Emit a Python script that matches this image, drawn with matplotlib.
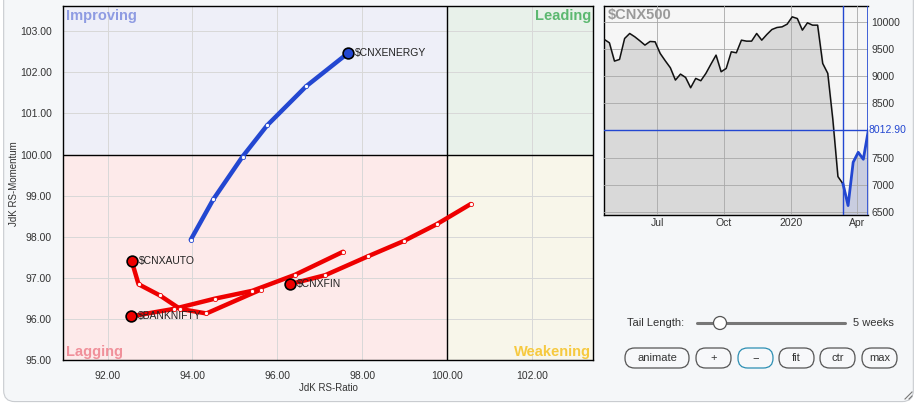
import matplotlib.pyplot as plt
import matplotlib.patches as mpatches
import pandas as pd

plt.rcParams['font.family'] = ['Liberation Sans', 'DejaVu Sans']

# RRG tails (oldest -> head)
names = ['$CNXENERGY', '$CNXAUTO', '$BANKNIFTY', '$CNXFIN']
colors = ['#2347d1', '#ee0000', '#ee0000', '#ee0000']
rs_ratio = [
    [93.96, 94.49, 95.18, 95.76, 96.68, 97.67],
    [95.61, 94.33, 93.71, 93.23, 92.73, 92.57],
    [97.55, 96.42, 95.41, 94.53, 93.56, 92.55],
    [100.56, 99.76, 98.98, 98.14, 97.13, 96.29],
]
rs_mom = [
    [97.93, 98.91, 99.95, 100.71, 101.66, 102.47],
    [96.72, 96.14, 96.25, 96.58, 96.85, 97.41],
    [97.64, 97.08, 96.69, 96.50, 96.25, 96.07],
    [98.80, 98.31, 97.90, 97.53, 97.07, 96.85],
]

# $CNX500 weekly closes
cnx500 = [9676, 9615, 9278, 9309, 9694, 9786, 9725, 9651, 9572, 9639,
          9633, 9419, 9284, 9156, 8929, 9039, 8978, 8788, 8960, 8917,
          9052, 9223, 9388, 9082, 9143, 9449, 9431, 9663, 9645, 9645,
          9786, 9663, 9767, 9859, 9896, 9908, 9957, 10092, 10061, 9847,
          9982, 9939, 9939, 9235, 9052, 8200, 7155, 7020, 6622, 7418,
          7601, 7473, 8012.90]
dates = pd.date_range(end='2020-04-17', periods=len(cnx500), freq='7D')
tail_weeks = 5

W, H = 917, 404
fig = plt.figure(figsize=(9.17, 4.04), dpi=100)
fig.patch.set_facecolor('white')
panel = mpatches.FancyBboxPatch((0.004, 0.006), 0.992, 1.2, transform=fig.transFigure,
                                boxstyle='round,pad=0,rounding_size=0.012', mutation_aspect=W / H,
                                facecolor='#f5f7f9', edgecolor='#c9ccd0', lw=0.8, zorder=-10)
fig.add_artist(panel)

# ---- RRG ----
ax = fig.add_axes([0.0687, 0.108, 0.5780, 0.877])
xmin, xmax, ymin, ymax = 90.95, 103.44, 95.0, 103.61
ax.set_xlim(xmin, xmax)
ax.set_ylim(ymin, ymax)
ax.add_patch(mpatches.Rectangle((xmin, 100), 100 - xmin, ymax - 100, color='#eeeff8', zorder=0))
ax.add_patch(mpatches.Rectangle((100, 100), xmax - 100, ymax - 100, color='#e8f1ea', zorder=0))
ax.add_patch(mpatches.Rectangle((xmin, ymin), 100 - xmin, 100 - ymin, color='#fdeaea', zorder=0))
ax.add_patch(mpatches.Rectangle((100, ymin), xmax - 100, 100 - ymin, color='#f8f6ea', zorder=0))
ax.set_xticks([92, 94, 96, 98, 100, 102])
ax.set_yticks([95, 96, 97, 98, 99, 100, 101, 102, 103])
ax.xaxis.set_major_formatter('{x:.2f}')
ax.yaxis.set_major_formatter('{x:.2f}')
ax.tick_params(labelsize=7.5, colors='#333333', length=0, pad=8)
ax.grid(color='#d8d8d8', lw=0.7, zorder=1)
ax.axvline(100, color='black', lw=1, zorder=2)
ax.axhline(100, color='black', lw=1, zorder=2)
for s in ax.spines.values():
    s.set_color('black')
    s.set_linewidth(1)
ax.set_xlabel('JdK RS-Ratio', fontsize=7, color='#333333', labelpad=1)
ax.set_ylabel('JdK RS-Momentum', fontsize=7, color='#333333', labelpad=1)

qkw = dict(fontsize=10.5, fontweight='bold', transform=ax.transAxes)
ax.text(0.005, 0.992, 'Improving', color='#8e9be2', ha='left', va='top', **qkw)
ax.text(0.997, 0.992, 'Leading', color='#5cb870', ha='right', va='top', **qkw)
ax.text(0.005, 0.003, 'Lagging', color='#f0909a', ha='left', va='bottom', **qkw)
ax.text(0.997, 0.003, 'Weakening', color='#f6c93f', ha='right', va='bottom', **qkw)

for name, c, xs, ys in zip(names, colors, rs_ratio, rs_mom):
    ax.plot(xs, ys, color=c, lw=3.2, solid_capstyle='round', solid_joinstyle='round', zorder=4)
    ax.scatter(xs[:-1], ys[:-1], s=9, facecolor='white', edgecolor=c, lw=0.6, zorder=5)
    ax.scatter(xs[-1:], ys[-1:], s=60, facecolor=c, edgecolor='black', lw=1.2, zorder=6)
    ax.annotate(name.replace('$', r'\$'), (xs[-1], ys[-1]), xytext=(5, 0), textcoords='offset points',
                fontsize=7.5, color='#222222', va='center', ha='left', zorder=7)

# ---- $CNX500 ----
bx = fig.add_axes([0.659, 0.468, 0.288, 0.517])
bx.set_facecolor('#f6f6f6')
bx.fill_between(dates, cnx500, 6400, color='#d9d9d9', zorder=1)
bx.plot(dates[:-tail_weeks], cnx500[:-tail_weeks], color='#111111', lw=1.1, zorder=3)
bx.fill_between(dates[-tail_weeks - 1:], cnx500[-tail_weeks - 1:], 6400, color='#c9cde0', zorder=2)
bx.plot(dates[-tail_weeks - 1:], cnx500[-tail_weeks - 1:], color='#2347d1', lw=2, zorder=4)
bx.axvline(dates[-tail_weeks - 1], color='#2347d1', lw=1, zorder=5)
bx.axvline(dates[-1], color='#2347d1', lw=1.2, zorder=5)
bx.axhline(cnx500[-1], color='#2347d1', lw=1, zorder=5)
bx.set_xlim(dates[0], dates[-1])
bx.set_ylim(6450, 10290)
bx.yaxis.tick_right()
bx.set_yticks([6500, 7000, 7500, 8500, 9000, 9500, 10000])
bx.set_xticks(pd.to_datetime(['2019-07-01', '2019-10-01', '2020-01-01', '2020-04-01']))
bx.set_xticklabels(['Jul', 'Oct', '2020', 'Apr'])
bx.tick_params(labelsize=7.5, colors='#333333', length=0, pad=2)
bx.grid(color='#a8a8a8', lw=0.6, zorder=0)
bx.set_axisbelow(False)
for s in bx.spines.values():
    s.set_color('black')
    s.set_linewidth(1)
bx.spines['right'].set_visible(False)
bx.text(1.0, cnx500[-1], '%.2f' % cnx500[-1], transform=bx.get_yaxis_transform(),
        fontsize=7.5, color='#2347d1', va='center', ha='left')
bx.text(0.012, 0.99, r'\$CNX500', transform=bx.transAxes, fontsize=10.5, fontweight='bold',
        color='#9a9a9a', ha='left', va='top')

# ---- controls ----
yc = 1 - 323 / H
fig.text(684 / W, yc, 'Tail Length:', fontsize=8, color='#333333', ha='right', va='center')
fig.add_artist(plt.Line2D([697 / W, 845 / W], [yc, yc], color='#777777', lw=2.2,
                          solid_capstyle='round', zorder=2))
fig.add_artist(mpatches.Ellipse((720 / W, yc), 13 / W, 13 / H, facecolor='white',
                                edgecolor='#555555', lw=0.9, zorder=3))
fig.text(853 / W, yc, '5 weeks', fontsize=8, color='#333333', ha='left', va='center')

buttons = ['animate', '+', '\u2212', 'fit', 'ctr', 'max']
bleft = [625, 696, 738, 779, 820, 862]
bright = [689, 731, 773, 814, 855, 897]
for lab, l, r in zip(buttons, bleft, bright):
    ec = '#2c8fb3' if lab == '\u2212' else '#555555'
    fig.add_artist(mpatches.FancyBboxPatch((l / W, 1 - 368 / H), (r - l) / W, 20 / H,
                                           transform=fig.transFigure,
                                           boxstyle='round,pad=0,rounding_size=0.0105',
                                           mutation_aspect=W / H,
                                           facecolor='#f7f8fa', edgecolor=ec, lw=0.9, zorder=2))
    fig.text((l + r) / 2 / W, 1 - 358 / H, lab, fontsize=8, color='#333333', ha='center', va='center')

fig.add_artist(plt.Line2D([905 / W, 912 / W], [1 - 399 / H, 1 - 392 / H], color='#777777', lw=0.8))
fig.add_artist(plt.Line2D([909 / W, 912 / W], [1 - 399 / H, 1 - 396 / H], color='#777777', lw=0.8))

fig.savefig('out.png', dpi=100)
